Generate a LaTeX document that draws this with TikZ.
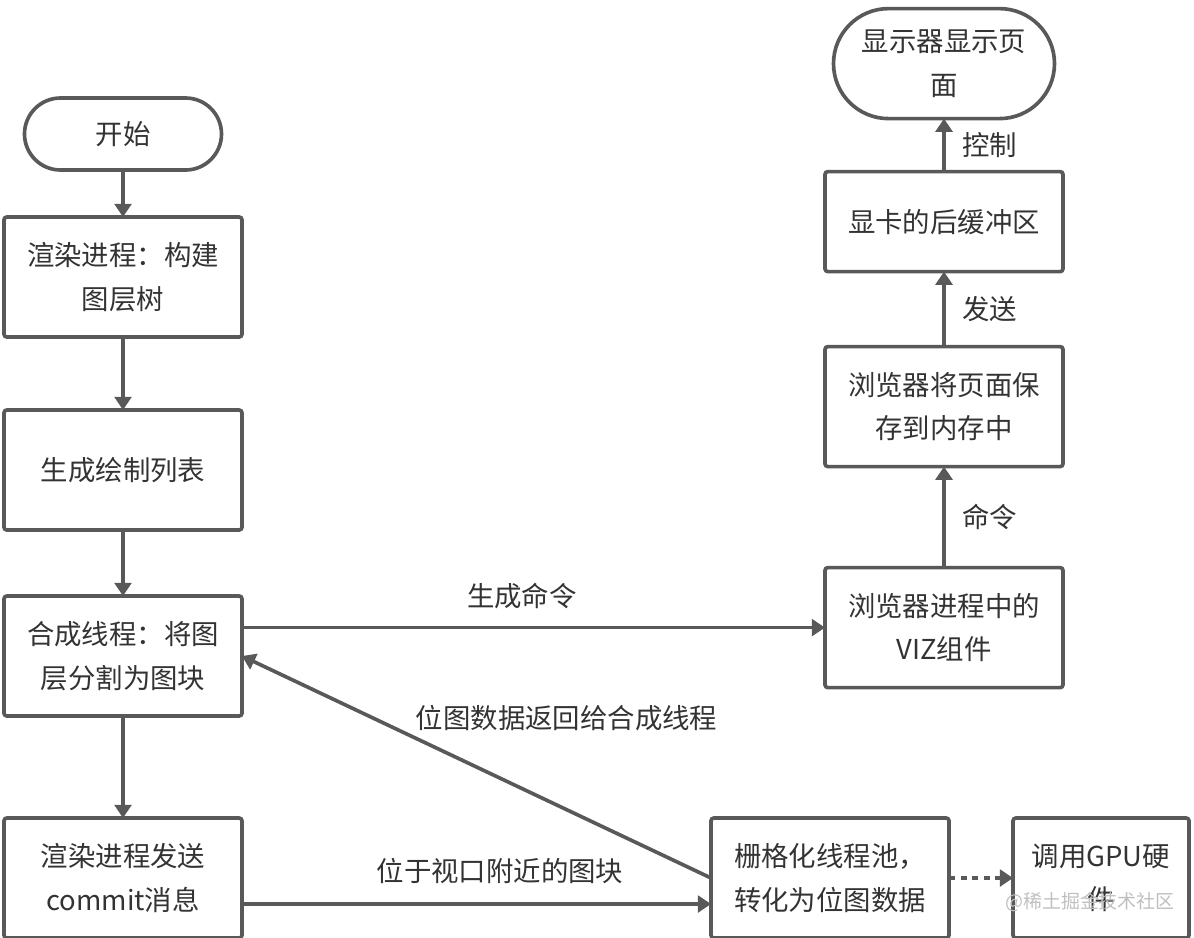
\documentclass[tikz,border=0pt]{standalone}
\usepackage{fontspec}
\newfontfamily\cjk{Noto Sans CJK SC}
\usetikzlibrary{positioning,arrows.meta}
\definecolor{linegray}{HTML}{595959}
\definecolor{textgray}{HTML}{333333}
\begin{document}
\begin{tikzpicture}
    \tikzstyle{box}=[
        draw=linegray,
        line width=2.6pt,
        rounded corners=2pt,
        outer sep=0pt,
        minimum width=5.95cm,
        minimum height=3cm,
        align=center,
        text=textgray,
        font=\cjk\fontsize{19.5}{31}\selectfont]
    \tikzstyle{terminal}=[box, rounded corners=0.9cm, minimum width=4.925cm, minimum height=1.8cm]
    \tikzstyle{flow}=[draw=linegray, line width=2.6pt, -{Triangle[length=0.33cm,width=0.42cm]}]
    \tikzstyle{lbl}=[text=textgray, font=\cjk\fontsize{19.5}{31}\selectfont]

    \useasboundingbox (0,0) rectangle (29.85,-23.425);

    % left column
    \node[terminal] (start) at (3.075,-3.35) {开始};
    \node[box] [below=1.175cm of start] (layer) {渲染进程：构建\\图层树};
    \node[box] [below=1.825cm of layer] (paint) {生成绘制列表};
    \node[box] [below=1.65cm of paint] (tile) {合成线程：将图\\层分割为图块};
    \node[box] [below=2.55cm of tile] (commit) {渲染进程发送\\commit消息};

    % bottom row
    \node[box] [right=11.725cm of commit] (raster) {栅格化线程池，\\转化为位图数据};
    \node[box, minimum width=4.4cm] [right=1.6cm of raster] (gpu) {调用GPU硬\\件};

    % right column
    \node[box] (viz) at (23.6,-15.69) {浏览器进程中的\\VIZ组件};
    \node[box] [above=2.525cm of viz] (mem) {浏览器将页面保\\存到内存中};
    \node[box, minimum height=2.5cm] [above=1.875cm of mem] (buffer) {显卡的后缓冲区};
    \node[terminal, rounded corners=1.375cm, minimum width=5.525cm, minimum height=2.75cm]
        [above=1.325cm of buffer] (screen) {显示器显示页\\面};

    \path[flow] (start) -- (layer);
    \path[flow] (layer) -- (paint);
    \path[flow] (paint) -- (tile);
    \path[flow] (tile) -- (commit);
    \path[flow] (tile.east |- viz.west) -- node[lbl, pos=0.48, above=0.3cm] {生成命令} (viz.west);
    \path[flow] ([yshift=-0.65cm]commit.east) -- node[lbl, pos=0.55, above=0.35cm] {位于视口附近的图块} ([yshift=-0.65cm]raster.west);
    \path[flow] (raster.west) -- node[lbl, pos=0.72, right=0.9cm] {位图数据返回给合成线程} (tile.east);
    \path[flow, dash pattern=on 0.15cm off 0.14cm] (raster) -- (gpu);
    \path[flow] (viz) -- node[lbl, right=0.3cm] {命令} (mem);
    \path[flow] (mem) -- node[lbl, right=0.3cm] {发送} (buffer);
    \path[flow] (buffer) -- node[lbl, right=0.3cm] {控制} (screen);

    % watermark
    \node[text=black!25, font=\cjk\fontsize{13.5}{16}\selectfont] (mark) at (27.25,-22.55) {@稀土掘金技术社区};
\end{tikzpicture}
\end{document}
